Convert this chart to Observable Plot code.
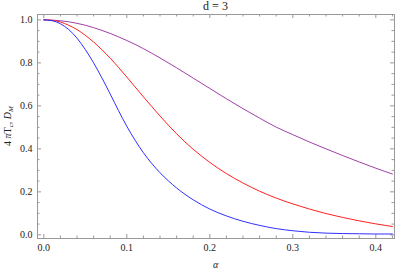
<!DOCTYPE html>
<html>
<head>
<meta charset="utf-8">
<script src="https://cdn.jsdelivr.net/npm/d3@7"></script>
<script src="https://cdn.jsdelivr.net/npm/@observablehq/plot@0.6"></script>
<style>
  body { margin: 0; background: #fff; }
  svg { display: block; }
  svg text { font-family: "Liberation Serif", "Times New Roman", Times, "DejaVu Serif", serif !important; }
</style>
</head>
<body>
<div id="chart"></div>
<script>
const alpha = [0,0.01,0.02,0.03,0.04,0.05,0.06,0.07,0.08,0.09,0.10,0.11,0.12,0.13,0.14,0.16,0.18,0.20,0.22,0.24,0.26,0.28,0.30,0.32,0.34,0.36,0.38,0.40,0.42];
const blueVals = [1,0.996,0.982,0.955,0.915,0.862,0.8,0.73,0.655,0.578,0.505,0.44,0.382,0.332,0.289,0.218,0.163,0.12,0.088,0.063,0.044,0.029,0.019,0.012,0.008,0.006,0.005,0.004,0.004];
const redVals = [1,0.998,0.99,0.975,0.955,0.928,0.897,0.861,0.822,0.779,0.734,0.688,0.642,0.597,0.553,0.47,0.398,0.337,0.285,0.241,0.203,0.171,0.144,0.12,0.099,0.081,0.065,0.051,0.039];
const purpleVals = [1,0.999,0.996,0.991,0.984,0.975,0.964,0.951,0.937,0.921,0.904,0.886,0.866,0.845,0.823,0.777,0.729,0.681,0.633,0.587,0.543,0.501,0.466,0.432,0.4,0.369,0.339,0.31,0.283];

const xMajor = [0,0.1,0.2,0.3,0.4];
const xMinor = [0.02,0.04,0.06,0.08,0.12,0.14,0.16,0.18,0.22,0.24,0.26,0.28,0.32,0.34,0.36,0.38,0.42];
const yMajor = [0,0.2,0.4,0.6,0.8,1.0];
const yMinor = [0.05,0.1,0.15,0.25,0.3,0.35,0.45,0.5,0.55,0.65,0.7,0.75,0.85,0.9,0.95];

const W = 399, H = 272;
const mL = 37, mR = 5, mT = 14, mB = 34;
const iW = W - mL - mR, iH = H - mT - mB;
const font = "Liberation Serif, Times New Roman, Times, DejaVu Serif, serif";
const tickColor = "#999";

function series(vals) { return alpha.map((a, i) => ({a, v: vals[i]})); }

const majorLen = 4, minorLen = 2.5;

const plot = Plot.plot({
  width: W, height: H,
  marginLeft: mL, marginRight: mR, marginTop: mT, marginBottom: mB,
  style: {fontSize: "10px", color: "#222", background: "white"},
  x: {domain: [-0.0076, 0.4225]},
  y: {domain: [-0.017, 1.025]},
  marks: [
    Plot.frame({stroke: tickColor}),
    Plot.ruleX(xMajor, {x: d => d, insetTop: iH - majorLen, stroke: tickColor}),
    Plot.ruleX(xMinor, {x: d => d, insetTop: iH - minorLen, stroke: tickColor}),
    Plot.ruleX(xMajor, {x: d => d, insetBottom: iH - majorLen, stroke: tickColor}),
    Plot.ruleX(xMinor, {x: d => d, insetBottom: iH - minorLen, stroke: tickColor}),
    Plot.ruleY(yMajor, {y: d => d, insetRight: iW - majorLen, stroke: tickColor}),
    Plot.ruleY(yMinor, {y: d => d, insetRight: iW - minorLen, stroke: tickColor}),
    Plot.ruleY(yMajor, {y: d => d, insetLeft: iW - majorLen, stroke: tickColor}),
    Plot.ruleY(yMinor, {y: d => d, insetLeft: iW - minorLen, stroke: tickColor}),
    Plot.axisX(xMajor, {tickSize: 0, tickPadding: 5, tickFormat: d3.format(".1f"), label: null, fontSize: 10}),
    Plot.axisY(yMajor, {tickSize: 0, tickPadding: 5, tickFormat: d3.format(".1f"), label: null, fontSize: 10}),
    Plot.line(series(purpleVals), {x: "a", y: "v", stroke: "#a040a8", strokeWidth: 1, curve: "monotone-x"}),
    Plot.line(series(redVals), {x: "a", y: "v", stroke: "#ff2020", strokeWidth: 1, curve: "monotone-x"}),
    Plot.line(series(blueVals), {x: "a", y: "v", stroke: "#3030ff", strokeWidth: 1, curve: "monotone-x"})
  ]
});

const svg = d3.select(plot);
svg.append("text")
  .attr("x", mL + iW/2).attr("y", 10)
  .attr("text-anchor", "middle")
  .attr("font-size", 12).attr("fill", "#222")
  .text("d = 3");
svg.append("text")
  .attr("x", mL + iW/2).attr("y", 268)
  .attr("text-anchor", "middle")
  .attr("font-size", 10).attr("font-style", "italic").attr("fill", "#222")
  .text("α");
const yl = svg.append("text")
  .attr("transform", `translate(11,${mT + iH/2}) rotate(-90)`)
  .attr("text-anchor", "middle")
  .attr("font-size", 10).attr("fill", "#222");
yl.append("tspan").text("4 ");
yl.append("tspan").attr("font-style", "italic").text("π");
yl.append("tspan").text("T");
yl.append("tspan").attr("font-size", 7).attr("dy", 2).text("c");
yl.append("tspan").attr("dy", -2).text(", ");
yl.append("tspan").attr("font-style", "italic").text("D");
yl.append("tspan").attr("font-style", "italic").attr("font-size", 7).attr("dy", 2).text("M");

document.getElementById("chart").append(plot);
</script>
</body>
</html>
